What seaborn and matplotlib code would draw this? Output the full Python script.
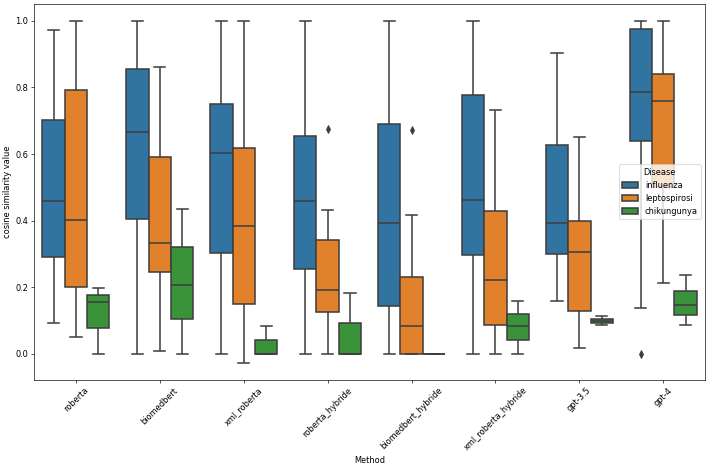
import pandas as pd
import matplotlib
matplotlib.use('Agg')
import matplotlib.pyplot as plt
import seaborn as sns

methods = ['roberta', 'biomedbert', 'xml_roberta', 'roberta_hybride',
           'biomedbert_hybride', 'xml_roberta_hybride', 'gpt-3.5', 'gpt-4']
diseases = ['influenza', 'leptospirosi', 'chikungunya']

# scores per method
influenza = [
    [0.093, 0.292, 0.46, 0.702, 0.973],
    [0.0, 0.406, 0.665, 0.854, 1.0],
    [0.0, 0.303, 0.603, 0.75, 1.0],
    [0.0, 0.254, 0.459, 0.653, 1.0],
    [0.0, 0.144, 0.393, 0.691, 1.0],
    [0.0, 0.298, 0.462, 0.777, 1.0],
    [0.16, 0.301, 0.393, 0.628, 0.902],
    [0.0, 0.138, 0.638, 0.7, 0.787, 0.9, 0.974, 0.99, 1.0],
]
leptospirosi = [
    [0.05, 0.2, 0.403, 0.791, 1.0],
    [0.007, 0.247, 0.332, 0.592, 0.861],
    [-0.027, 0.149, 0.383, 0.619, 1.0],
    [0.0, 0.06, 0.125, 0.16, 0.191, 0.27, 0.343, 0.432, 0.675],
    [0.0, 0.0, 0.0, 0.04, 0.085, 0.15, 0.231, 0.417, 0.672],
    [0.0, 0.087, 0.222, 0.428, 0.731],
    [0.016, 0.129, 0.306, 0.399, 0.652],
    [0.212, 0.5, 0.758, 0.841, 1.0],
]
chikungunya = [
    [0.0, 0.078, 0.156, 0.176, 0.198],
    [0.0, 0.104, 0.208, 0.321, 0.435],
    [0.0, 0.0, 0.0, 0.041, 0.085],
    [0.0, 0.0, 0.0, 0.092, 0.182],
    [0.0, 0.0, 0.0, 0.0, 0.0],
    [0.0, 0.041, 0.085, 0.12, 0.158],
    [0.087, 0.093, 0.1, 0.105, 0.115],
    [0.088, 0.117, 0.147, 0.19, 0.238],
]

rows = []
for disease, groups in zip(diseases, [influenza, leptospirosi, chikungunya]):
    for method, vals in zip(methods, groups):
        for v in vals:
            rows.append({'Method': method, 'Disease': disease, 'score': v})
df = pd.DataFrame(rows)

line = '#3d3d3d'
fig, ax = plt.subplots(figsize=(12, 465 / 59), dpi=59)
sns.boxplot(data=df, x='Method', y='score', hue='Disease', order=methods,
            hue_order=diseases, saturation=0.75, ax=ax,
            linewidth=1.9, linecolor=line,
            flierprops={'marker': 'd', 'markersize': 7,
                        'markerfacecolor': line, 'markeredgecolor': line})
ax.set_ylabel('cosine similarity value')
ax.set_xlabel('Method')
plt.xticks(rotation=45)
ax.legend(title='Disease', loc='center right')
plt.subplots_adjust(left=0.048, right=0.996, top=0.992, bottom=0.183)
plt.savefig('out.png', dpi=59)
